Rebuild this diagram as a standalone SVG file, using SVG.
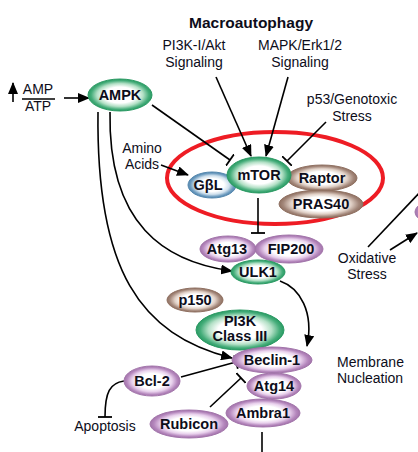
<svg xmlns="http://www.w3.org/2000/svg" width="418" height="452" viewBox="0 0 418 452">
<defs>
<radialGradient id="gGreen" cx="50%" cy="50%" r="50%"><stop offset="0" stop-color="#fff"/><stop offset="0.5" stop-color="#fff"/><stop offset="0.72" stop-color="#b3e0c6"/><stop offset="0.9" stop-color="#45ad7a"/><stop offset="1" stop-color="#2a9a63"/></radialGradient>
<radialGradient id="gPink" cx="50%" cy="50%" r="50%"><stop offset="0" stop-color="#fff"/><stop offset="0.5" stop-color="#fff"/><stop offset="0.72" stop-color="#e8d0ec"/><stop offset="0.9" stop-color="#b587bd"/><stop offset="1" stop-color="#a274aa"/></radialGradient>
<radialGradient id="gTan" cx="50%" cy="50%" r="50%"><stop offset="0" stop-color="#fff"/><stop offset="0.5" stop-color="#fff"/><stop offset="0.72" stop-color="#e0d0c6"/><stop offset="0.9" stop-color="#a3877a"/><stop offset="1" stop-color="#8f7061"/></radialGradient>
<radialGradient id="gBlue" cx="50%" cy="50%" r="50%"><stop offset="0" stop-color="#fff"/><stop offset="0.5" stop-color="#fff"/><stop offset="0.72" stop-color="#cfe0ed"/><stop offset="0.9" stop-color="#6c9bbf"/><stop offset="1" stop-color="#5487ae"/></radialGradient>
<marker id="arr" markerUnits="userSpaceOnUse" markerWidth="12" markerHeight="10" refX="11" refY="5" orient="auto" viewBox="0 0 12 10"><path d="M0,0 L12,5 L0,10 z" fill="#000"/></marker>
<marker id="tee" markerUnits="userSpaceOnUse" markerWidth="4" markerHeight="14" refX="2" refY="7" orient="auto" viewBox="0 0 4 14"><path d="M2,0 L2,14" stroke="#000" stroke-width="1.8"/></marker>
</defs>
<style>
text{font-family:"Liberation Sans",Arial,sans-serif;fill:#0d0d1a}
.lbl{font-size:14px;text-anchor:middle}
.lbll{font-size:14px}
.nt{font-size:14.5px;font-weight:bold;text-anchor:middle}
.title{font-size:15.5px;font-weight:bold;text-anchor:middle}
.green{fill:url(#gGreen);stroke:#2a9a63;stroke-width:1}
.pink{fill:url(#gPink);stroke:#a274aa;stroke-width:1}
.tan{fill:url(#gTan);stroke:#8f7061;stroke-width:1}
.blue{fill:url(#gBlue);stroke:#5487ae;stroke-width:1}
.ln{fill:none;stroke:#000;stroke-width:1.6}
.a{marker-end:url(#arr)}
.t{marker-end:url(#tee)}
</style>
<rect width="418" height="452" fill="#fff"/>

<g id="labels">
<text class="title" x="251" y="28">Macroautophagy</text>
<text class="lbl" x="194" y="50">PI3K-I/Akt</text>
<text class="lbl" x="194" y="67">Signaling</text>
<text class="lbl" x="300" y="50">MAPK/Erk1/2</text>
<text class="lbl" x="300" y="67">Signaling</text>
<text class="lbl" x="352" y="104">p53/Genotoxic</text>
<text class="lbl" x="352" y="121">Stress</text>
<text class="lbl" x="142" y="153">Amino</text>
<text class="lbl" x="142" y="169">Acids</text>
<text class="lbl" x="367" y="263">Oxidative</text>
<text class="lbl" x="367" y="279">Stress</text>
<text class="lbll" x="337" y="367">Membrane</text>
<text class="lbll" x="337" y="383">Nucleation</text>
<text class="lbl" x="105" y="431">Apoptosis</text>
<text class="lbl" x="38" y="94">AMP</text>
<text class="lbl" x="38" y="111">ATP</text>
<line x1="22" y1="99" x2="55" y2="99" stroke="#000" stroke-width="1.6"/>
</g>

<ellipse id="complex" cx="275" cy="178" rx="108" ry="46" fill="none" stroke="#ee1c24" stroke-width="4"/>

<g id="connectors">
<line class="ln a" x1="13" y1="102" x2="13" y2="83"/>
<line class="ln a" x1="64" y1="98" x2="89" y2="98"/>
<line class="ln t" x1="152" y1="105" x2="230" y2="160"/>
<line class="ln a" x1="216" y1="77" x2="251" y2="156"/>
<line class="ln a" x1="288" y1="77" x2="266" y2="156"/>
<line class="ln t" x1="326" y1="122" x2="287" y2="161"/>
<line class="ln a" x1="161" y1="165" x2="188" y2="175"/>
<line class="ln t" x1="258" y1="198" x2="258" y2="233"/>
<path class="ln a" d="M110,112 C108,225 165,262 232,271"/>
<path class="ln a" d="M98,112 C96,270 140,335 232,358"/>
<path class="ln a" d="M280,281 C300,288 314,312 307,346"/>
<line class="ln t" x1="181" y1="377" x2="236" y2="362"/>
<line class="ln t" x1="210" y1="407" x2="241" y2="378"/>
<path class="ln t" d="M124,381 C110,383 105,392 105,417"/>
<line class="ln" x1="262" y1="432" x2="262" y2="452"/>
<line class="ln" x1="368" y1="247" x2="422" y2="190"/>
<line class="ln a" x1="390" y1="250" x2="417" y2="233"/>
</g>

<g id="n-offscreen"><ellipse class="pink" cx="446" cy="212" rx="31" ry="14"/></g>
<g id="n-ampk"><ellipse class="green" cx="120" cy="95" rx="32" ry="16"/><text class="nt" x="120" y="100">AMPK</text></g>
<g id="n-gbl"><ellipse class="blue" cx="212" cy="185" rx="24" ry="13"/><text class="nt" x="208" y="190">GβL</text></g>
<g id="n-raptor"><ellipse class="tan" cx="322" cy="178" rx="35" ry="13"/><text class="nt" x="322" y="183">Raptor</text></g>
<g id="n-pras40"><ellipse class="tan" cx="321" cy="204" rx="42" ry="14"/><text class="nt" x="321" y="209">PRAS40</text></g>
<g id="n-mtor"><ellipse class="green" cx="259" cy="175" rx="32" ry="18"/><text class="nt" x="259" y="180">mTOR</text></g>
<g id="n-atg13"><ellipse class="pink" cx="228" cy="249" rx="28" ry="13"/><text class="nt" x="227" y="254">Atg13</text></g>
<g id="n-fip200"><ellipse class="pink" cx="289" cy="249" rx="34" ry="14"/><text class="nt" x="291" y="254">FIP200</text></g>
<g id="n-ulk1"><ellipse class="green" cx="258" cy="272" rx="27" ry="12"/><text class="nt" x="258" y="277">ULK1</text></g>
<g id="n-p150"><ellipse class="tan" cx="195" cy="300" rx="28" ry="12"/><text class="nt" x="195" y="305">p150</text></g>
<g id="n-pi3k"><ellipse class="green" cx="240" cy="330" rx="44" ry="20"/><text class="nt" x="240" y="326">PI3K</text><text class="nt" x="240" y="341">Class III</text></g>
<g id="n-beclin1"><ellipse class="pink" cx="272" cy="360" rx="40" ry="13"/><text class="nt" x="272" y="365">Beclin-1</text></g>
<g id="n-atg14"><ellipse class="pink" cx="274" cy="386" rx="27" ry="13"/><text class="nt" x="274" y="391">Atg14</text></g>
<g id="n-ambra1"><ellipse class="pink" cx="263" cy="413" rx="37" ry="14"/><text class="nt" x="263" y="418">Ambra1</text></g>
<g id="n-bcl2"><ellipse class="pink" cx="152" cy="381" rx="28" ry="15"/><text class="nt" x="152" y="386">Bcl-2</text></g>
<g id="n-rubicon"><ellipse class="pink" cx="189" cy="424" rx="39" ry="14"/><text class="nt" x="189" y="429">Rubicon</text></g>
</svg>
